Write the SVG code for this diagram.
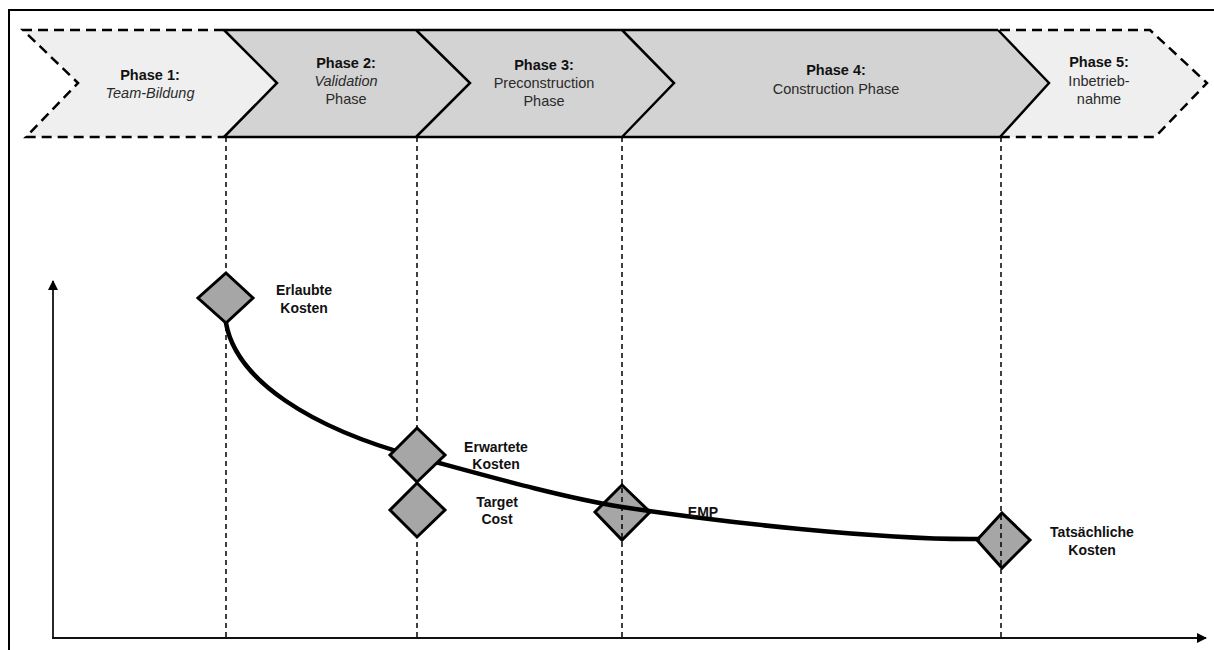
<svg xmlns="http://www.w3.org/2000/svg" width="1214" height="650" viewBox="0 0 1214 650">
  <style>
    text { font-family: "Liberation Sans", Arial, sans-serif; text-anchor: middle; }
    .ph { font-size: 14.5px; fill: #2a2a2a; }
    .b { font-weight: bold; fill: #111; }
    .i { font-style: italic; }
    .lbl { font-size: 14px; font-weight: bold; fill: #111; }
    .light { fill: #efefef; stroke: none; }
    .mid { fill: #d3d3d3; stroke: none; }
    .dashed { fill: none; stroke: #000; stroke-width: 2.5; stroke-dasharray: 10 6; }
    .solid { fill: none; stroke: #000; stroke-width: 2.5; stroke-linejoin: miter; }
    .guide { stroke: #000; stroke-width: 1.5; stroke-dasharray: 5 4; }
    .milestone { fill: #a6a6a6; stroke: #000; stroke-width: 3; stroke-linejoin: miter; }
    .axis { stroke: #111; stroke-width: 1.8; fill: none; }
  </style>
  <defs>
    <marker id="arrow" markerWidth="10" markerHeight="10" refX="9" refY="5" orient="auto" markerUnits="userSpaceOnUse">
      <path d="M0,0 L10,5 L0,10 z" fill="#000"/>
    </marker>
  </defs>

  <rect width="1214" height="650" fill="#fff"/>

  <!-- outer frame (top and left edges) -->
  <path d="M9,650 L9,10 L1214,10" fill="none" stroke="#000" stroke-width="2"/>

  <!-- phase chevrons -->
  <g id="phase1">
    <polygon class="light" points="23,30 224,30 277,83 224,137 26,137 78,83"/>
    <path class="dashed" d="M224,30 L23,30 L78,83 L26,137 L224,137"/>
    <text class="ph b" x="150" y="80">Phase 1:</text>
    <text class="ph i" x="150" y="98">Team-Bildung</text>
  </g>
  <g id="phase2">
    <polygon class="mid" points="224,30 416,30 470,83 416,137 224,137 277,83"/>
    <text class="ph b" x="346" y="68">Phase 2:</text>
    <text class="ph i" x="346" y="86">Validation</text>
    <text class="ph" x="346" y="104">Phase</text>
  </g>
  <g id="phase3">
    <polygon class="mid" points="416,30 622,30 674,83 622,137 416,137 470,83"/>
    <text class="ph b" x="544" y="70">Phase 3:</text>
    <text class="ph" x="544" y="88">Preconstruction</text>
    <text class="ph" x="544" y="106">Phase</text>
  </g>
  <g id="phase4">
    <polygon class="mid" points="622,30 998,30 1049,83 1000,137 622,137 674,83"/>
    <text class="ph b" x="836" y="75">Phase 4:</text>
    <text class="ph" x="836" y="94">Construction Phase</text>
  </g>
  <g id="phase5">
    <polygon class="light" points="998,30 1150,30 1207,83 1155,137 1000,137 1049,83"/>
    <path class="dashed" d="M1000,30 L1150,30 L1207,83 L1155,137 L1000,137"/>
    <text class="ph b" x="1099" y="67">Phase 5:</text>
    <text class="ph" x="1099" y="86">Inbetrieb-</text>
    <text class="ph" x="1099" y="104">nahme</text>
  </g>
  <!-- solid outline of phases 2 to 4 -->
  <path class="solid" d="M224,30 L998,30 M224,137 L1000,137 M224,30 L277,83 L224,137 M416,30 L470,83 L416,137 M622,30 L674,83 L622,137 M998,30 L1049,83 L1000,137"/>

  <!-- axes -->
  <g id="axes">
    <line class="axis" x1="53" y1="639" x2="53" y2="281" marker-end="url(#arrow)"/>
    <line class="axis" x1="52" y1="638" x2="1206" y2="638" marker-end="url(#arrow)"/>
  </g>

  <g id="connectors">
    <!-- milestones 4 and 5 sit under their guide lines -->
    <polygon class="milestone" points="622,485 650,512 622,540 595,512"/>
    <polygon class="milestone" points="1002,513 1030,540 1002,568 977,540"/>
    <!-- phase boundary guides -->
    <line class="guide" x1="226" y1="137" x2="226" y2="637"/>
    <line class="guide" x1="417" y1="137" x2="417" y2="637"/>
    <line class="guide" x1="622" y1="137" x2="622" y2="637"/>
    <line class="guide" x1="1001" y1="137" x2="1001" y2="637"/>
    <!-- cost curve -->
    <path d="M226,323 C236,380 310,428 417,457 C480,474 560,497 622,507 C720,522 880,540 978,539" fill="none" stroke="#000" stroke-width="4.5" stroke-linecap="round"/>
  </g>

  <g id="erlaubte-kosten">
    <polygon class="milestone" points="226,273 253,298 226,323 198,298"/>
    <text class="lbl" x="304" y="295">Erlaubte</text>
    <text class="lbl" x="304" y="313">Kosten</text>
  </g>
  <g id="erwartete-kosten">
    <polygon class="milestone" points="417,428 445,455 417,482 390,455"/>
    <text class="lbl" x="496" y="452">Erwartete</text>
    <text class="lbl" x="496" y="469">Kosten</text>
  </g>
  <g id="target-cost">
    <polygon class="milestone" points="417,483 445,510 417,537 390,510"/>
    <text class="lbl" x="497" y="507">Target</text>
    <text class="lbl" x="497" y="524">Cost</text>
  </g>
  <g id="emp">
    <text class="lbl" x="703" y="517">EMP</text>
  </g>
  <g id="tatsaechliche-kosten">
    <text class="lbl" x="1092" y="537">Tatsächliche</text>
    <text class="lbl" x="1092" y="555">Kosten</text>
  </g>
</svg>
